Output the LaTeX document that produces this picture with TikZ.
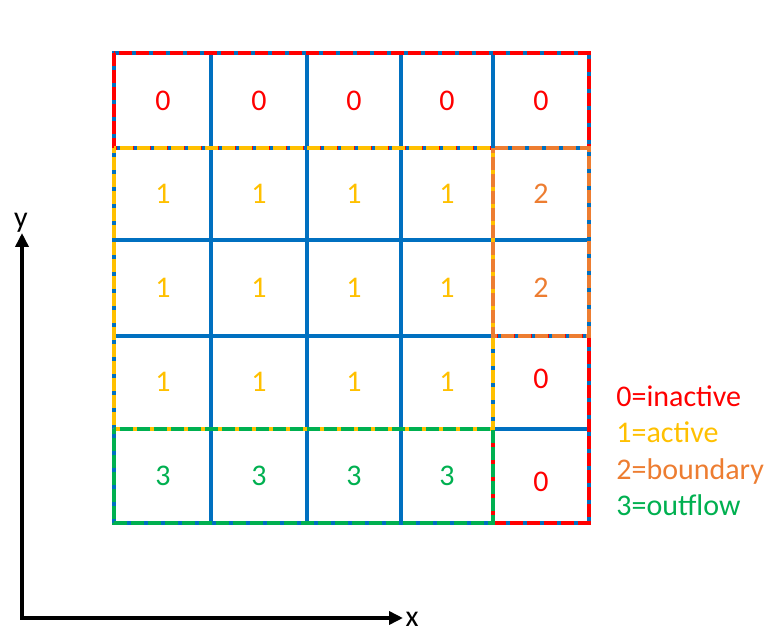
\documentclass[tikz,border=0pt]{standalone}
\usepackage{fontspec}
\setmainfont{Carlito}
\usetikzlibrary{arrows.meta}
\definecolor{cellblue}{RGB}{0,112,192}
\definecolor{inactred}{RGB}{255,0,0}
\definecolor{activeyellow}{RGB}{255,192,0}
\definecolor{bndorange}{RGB}{237,125,49}
\definecolor{outgreen}{RGB}{0,176,80}

\begin{document}
\begin{tikzpicture}[x=0.5pt,y=-0.5pt,
    gridline/.style={cellblue, line width=2pt},
    zone/.style={line width=2.2pt, dash pattern=on 6.5pt off 2pt},
    lbl/.style={font=\fontsize{15}{18}\selectfont}]

    \useasboundingbox (0,0) rectangle (775,635);

    % blue grid
    \draw[gridline] (114,53) rectangle (589,523);
    \draw[gridline] (211,53) -- (211,523);
    \draw[gridline] (307,53) -- (307,523);
    \draw[gridline] (401,53) -- (401,523);
    \draw[gridline] (493,53) -- (493,523);
    \draw[gridline] (114,148) -- (589,148);
    \draw[gridline] (114,240) -- (589,240);
    \draw[gridline] (114,336) -- (589,336);
    \draw[gridline] (114,429) -- (589,429);

    % zones
    \draw[zone, inactred] (114,53) rectangle (589,148);
    \draw[zone, inactred] (493,336) rectangle (589,523);
    \draw[zone, activeyellow, dash phase=4pt] (114,148) rectangle (493,429);
    \draw[zone, bndorange, dash phase=4pt] (493,148) rectangle (589,336);
    \draw[zone, outgreen, dash phase=4pt] (114,429) rectangle (493,523);

    % cell values
    \node[lbl, inactred] (c11) at (163,101) {0};
    \node[lbl, inactred] (c12) at (259,101) {0};
    \node[lbl, inactred] (c13) at (354,101) {0};
    \node[lbl, inactred] (c14) at (447,101) {0};
    \node[lbl, inactred] (c15) at (541,101) {0};

    \node[lbl, activeyellow] (c21) at (163,194) {1};
    \node[lbl, activeyellow] (c22) at (259,194) {1};
    \node[lbl, activeyellow] (c23) at (354,194) {1};
    \node[lbl, activeyellow] (c24) at (447,194) {1};
    \node[lbl, bndorange] (c25) at (541,194) {2};

    \node[lbl, activeyellow] (c31) at (163,288) {1};
    \node[lbl, activeyellow] (c32) at (259,288) {1};
    \node[lbl, activeyellow] (c33) at (354,288) {1};
    \node[lbl, activeyellow] (c34) at (447,288) {1};
    \node[lbl, bndorange] (c35) at (541,288) {2};

    \node[lbl, activeyellow] (c41) at (163,382) {1};
    \node[lbl, activeyellow] (c42) at (259,382) {1};
    \node[lbl, activeyellow] (c43) at (354,382) {1};
    \node[lbl, activeyellow] (c44) at (447,382) {1};
    \node[lbl, inactred] (c45) at (541,379) {0};

    \node[lbl, outgreen] (c51) at (163,476) {3};
    \node[lbl, outgreen] (c52) at (259,476) {3};
    \node[lbl, outgreen] (c53) at (354,476) {3};
    \node[lbl, outgreen] (c54) at (447,476) {3};
    \node[lbl, inactred] (c55) at (541,482) {0};

    % legend
    \node[lbl, inactred, anchor=base west, inner sep=0pt] (lgzero) at (616,407) {0=inactive};
    \node[lbl, activeyellow, anchor=base west, inner sep=0pt] (lgone) at (616,443) {1=active};
    \node[lbl, bndorange, anchor=base west, inner sep=0pt] (lgtwo) at (616,479) {2=boundary};
    \node[lbl, outgreen, anchor=base west, inner sep=0pt] (lgthree) at (616,515) {3=outflow};

    % axes
    \coordinate (origin) at (22,618);
    \coordinate (ytip) at (22,233);
    \coordinate (xtip) at (403,618);
    \draw[line width=2pt, {Triangle[length=7pt,width=6.5pt]}-{Triangle[length=7pt,width=6.5pt]}] (ytip) -- (origin) -- (xtip);
    \node[lbl, anchor=base] (ylab) at (21,228) {y};
    \node[lbl, anchor=base] (xlab) at (412,626) {x};

\end{tikzpicture}
\end{document}
